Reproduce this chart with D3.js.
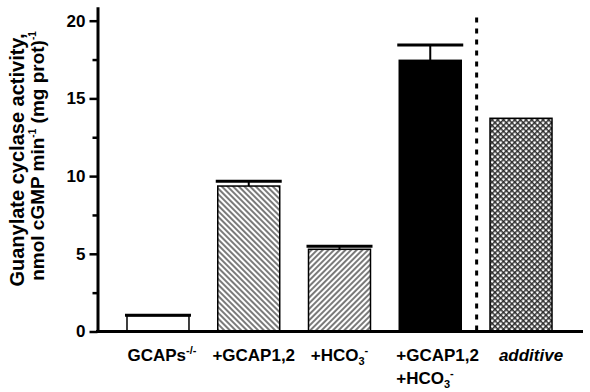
<!DOCTYPE html>
<html>
<head>
<meta charset="utf-8">
<script src="https://cdn.jsdelivr.net/npm/d3@7"></script>
<style>
  body { margin: 0; background: white; }
  text { font-family: "Liberation Sans", Arial, sans-serif; font-weight: bold; }
</style>
</head>
<body>
<div id="chart"></div>
<script>
// data
const categories = ["GCAPs", "GCAP", "HCO3", "GCAP+HCO3", "additive"];
const means = [1.02, 9.36, 5.29, 17.45, 13.72];
const errors = [0.02, 0.31, 0.19, 0.99, 0];
const fills = ["white", "url(#hatchBack)", "url(#hatchFwd)", "black", "url(#cross)"];
const majorTicks = [0, 5, 10, 15, 20];
const minorTicks = [2.5, 7.5, 12.5, 17.5];
// label lines: [text, kind] segments
const xLabels = [
  [[["GCAPs", ""], ["-/-", "sup"]]],
  [[["+GCAP1,2", ""]]],
  [[["+HCO", ""], ["3", "sub"], ["-", "sup"]]],
  [[["+GCAP1,2", ""]], [["+HCO", ""], ["3", "sub"], ["-", "sup"]]],
  [[["additive", "italic"]]]
];

const layout = {
  width: 590,
  height: 392,
  axisX: 97.5,
  axisRight: 581.5,
  zeroY: 331.5,
  pxPerUnit: 15.54,
  yMax: 20.9,
  labelY: 361,
  labelLine: 23
};

let svg = d3.select("#chart").append("svg")
  .attr("width", layout.width)
  .attr("height", layout.height)
  .attr("viewBox", [0, 0, layout.width, layout.height].join(" "));

// patterns
let defs = svg.append("defs");
function linePattern(id, angle) {
  let p = defs.append("pattern")
    .attr("id", id)
    .attr("patternUnits", "userSpaceOnUse")
    .attr("width", 4).attr("height", 4)
    .attr("patternTransform", `rotate(${angle})`);
  p.append("rect").attr("width", 4).attr("height", 4).attr("fill", "white");
  p.append("line").attr("x1", 1).attr("y1", 0).attr("x2", 1).attr("y2", 4)
    .attr("stroke", "#222").attr("stroke-width", 1.2);
}
linePattern("hatchBack", -45);
linePattern("hatchFwd", 45);
let cp = defs.append("pattern")
  .attr("id", "cross")
  .attr("patternUnits", "userSpaceOnUse")
  .attr("width", 4).attr("height", 4)
  .attr("patternTransform", "rotate(45)");
cp.append("rect").attr("width", 4).attr("height", 4).attr("fill", "white");
cp.append("line").attr("x1", 0.8).attr("y1", 0).attr("x2", 0.8).attr("y2", 4)
  .attr("stroke", "#222").attr("stroke-width", 1.4);
cp.append("line").attr("x1", 0).attr("y1", 0.8).attr("x2", 4).attr("y2", 0.8)
  .attr("stroke", "#222").attr("stroke-width", 1.4);

// scales
let xScale = d3.scaleBand()
  .domain(categories)
  .range([layout.axisX, layout.axisRight])
  .paddingInner(0.317)
  .paddingOuter(0.325);
let yScale = d3.scaleLinear()
  .domain([0, layout.yMax])
  .range([layout.zeroY, layout.zeroY - layout.yMax * layout.pxPerUnit]);
let bw = xScale.bandwidth();

// bars
svg.append("g").selectAll("rect")
  .data(categories)
  .join("rect")
  .attr("x", d => xScale(d))
  .attr("y", (d, i) => yScale(means[i]))
  .attr("width", bw)
  .attr("height", (d, i) => yScale(0) - yScale(means[i]))
  .attr("fill", (d, i) => fills[i])
  .attr("stroke", "black")
  .attr("stroke-width", 1.5);

// error bars (upper only)
let errG = svg.append("g");
categories.forEach((c, i) => {
  if (errors[i] <= 0) return;
  let cx = xScale(c) + bw / 2;
  errG.append("line")
    .attr("x1", cx).attr("x2", cx)
    .attr("y1", yScale(means[i])).attr("y2", yScale(means[i] + errors[i]))
    .attr("stroke", "black").attr("stroke-width", 2);
  errG.append("line")
    .attr("x1", xScale(c) - 2).attr("x2", xScale(c) + bw + 2)
    .attr("y1", yScale(means[i] + errors[i])).attr("y2", yScale(means[i] + errors[i]))
    .attr("stroke", "black").attr("stroke-width", 3);
});

// dashed separator between measured and additive
let sepX = xScale(categories[3]) + bw + (xScale.step() - bw) / 2 + 1;
svg.append("line")
  .attr("x1", sepX).attr("x2", sepX)
  .attr("y1", yScale(20.2)).attr("y2", yScale(0))
  .attr("stroke", "black")
  .attr("stroke-width", 3)
  .attr("stroke-dasharray", "5,6");

// y axis
let yAxis = svg.append("g")
  .attr("transform", `translate(${layout.axisX},0)`)
  .call(d3.axisLeft(yScale).tickValues(majorTicks).tickSize(8).tickSizeOuter(0).tickPadding(4));
yAxis.select(".domain").attr("stroke-width", 3);
yAxis.selectAll(".tick line").attr("stroke-width", 2.5);
yAxis.selectAll("text").attr("font-size", 17).attr("fill", "black")
  .style("font-family", "'Liberation Sans', Arial, sans-serif").style("font-weight", "bold");
let yMinor = svg.append("g")
  .attr("transform", `translate(${layout.axisX},0)`)
  .call(d3.axisLeft(yScale).tickValues(minorTicks).tickSize(5).tickSizeOuter(0).tickFormat(""));
yMinor.select(".domain").remove();
yMinor.selectAll(".tick line").attr("stroke-width", 2.5);

// x axis
let xAxis = svg.append("g")
  .attr("transform", `translate(0,${layout.zeroY})`)
  .call(d3.axisBottom(xScale).tickSize(0).tickSizeOuter(0).tickFormat(""));
xAxis.select(".domain").attr("stroke-width", 3)
  .attr("d", `M${layout.axisX - 1.5},0H${layout.axisRight + 1.5}`);

// x labels
const labelDx = [4, 5, 0, 0, 10];
xLabels.forEach((lines, i) => {
  let cx = xScale(categories[i]) + bw / 2 + labelDx[i];
  let multi = lines.length > 1;
  lines.forEach((segs, li) => {
    let t = svg.append("text")
      .attr("x", multi ? xScale(categories[i]) - 3 : cx)
      .attr("y", layout.labelY + li * layout.labelLine)
      .attr("text-anchor", multi ? "start" : "middle")
      .attr("font-size", 17);
    let shift = 0;
    segs.forEach(([s, kind]) => {
      let ts = t.append("tspan").text(s);
      let target = kind === "sup" ? -7 : kind === "sub" ? 4 : 0;
      if (target !== shift) { ts.attr("dy", target - shift); shift = target; }
      if (kind === "sup" || kind === "sub") ts.attr("font-size", 11);
      if (kind === "italic") ts.attr("font-style", "italic");
    });
  });
});

// y title, two lines
const titleLines = [
  [["Guanylate cyclase activity,", ""]],
  [["nmol cGMP min", ""], ["-1", "sup"], [" (mg prot)", ""], ["-1", "sup"]]
];
const titleX = [24, 44];
const titleMid = [160, 156];
const titleSize = [20, 19];
titleLines.forEach((segs, li) => {
  let t = svg.append("text")
    .attr("transform", `translate(${titleX[li]},${titleMid[li]}) rotate(-90)`)
    .attr("text-anchor", "middle")
    .attr("font-size", titleSize[li]);
  let shift = 0;
  segs.forEach(([s, kind]) => {
    let ts = t.append("tspan").text(s);
    let target = kind === "sup" ? -8 : 0;
    if (target !== shift) { ts.attr("dy", target - shift); shift = target; }
    if (kind === "sup") ts.attr("font-size", 10);
  });
});
</script>
</body>
</html>
